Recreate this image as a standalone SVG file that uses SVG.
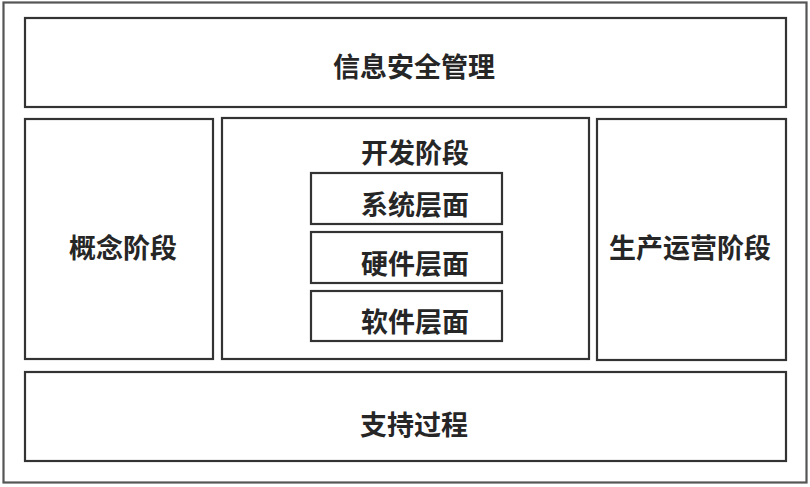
<svg xmlns="http://www.w3.org/2000/svg" width="810" height="487" viewBox="0 0 810 487">
<style>
rect{fill:#fff;stroke:#333;stroke-width:2.2}
text{font-family:"Noto Sans CJK SC","Noto Sans",sans-serif;font-size:27px;font-weight:bold;fill:#262626;text-anchor:middle;dominant-baseline:central}
</style>
<rect x="0" y="0" width="810" height="487" style="stroke:none"/>
<g id="outer"><rect x="3.5" y="2.5" width="803" height="480" style="stroke:#555"/></g>
<g id="mgmt"><rect x="25" y="18" width="761" height="89"/><text x="414" y="65">信息安全管理</text></g>
<g id="concept"><rect x="25" y="119" width="188" height="240"/><text x="123" y="246">概念阶段</text></g>
<g id="dev"><rect x="222" y="118" width="367" height="241"/><text x="415" y="151">开发阶段</text></g>
<g id="sys"><rect x="311" y="173" width="191" height="51"/><text x="415" y="203">系统层面</text></g>
<g id="hw"><rect x="311" y="232" width="191" height="51"/><text x="415" y="262">硬件层面</text></g>
<g id="sw"><rect x="311" y="291" width="191" height="50"/><text x="415" y="320">软件层面</text></g>
<g id="ops"><rect x="597" y="119" width="189" height="241"/><text x="690" y="246">生产运营阶段</text></g>
<g id="support"><rect x="25" y="372" width="761" height="89"/><text x="414" y="423">支持过程</text></g>
<g id="connectors"></g>
</svg>
